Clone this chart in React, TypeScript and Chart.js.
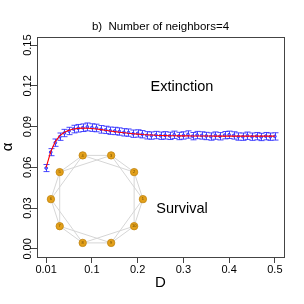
import React, { useEffect, useRef } from "react";
import { Chart, registerables } from "chart.js";
Chart.register(...registerables);

// ---- data ----
const D = [
  0, 0.01, 0.02, 0.03, 0.04, 0.05, 0.06, 0.07, 0.08, 0.09,
  0.1, 0.11, 0.12, 0.13, 0.14, 0.15, 0.16, 0.17, 0.18, 0.19,
  0.2, 0.21, 0.22, 0.23, 0.24, 0.25, 0.26, 0.27, 0.28, 0.29,
  0.3, 0.31, 0.32, 0.33, 0.34, 0.35, 0.36, 0.37, 0.38, 0.39,
  0.4, 0.41, 0.42, 0.43, 0.44, 0.45, 0.46, 0.47, 0.48, 0.49, 0.5,
];
const alphaMean = [
  0.0595, 0.0712, 0.0782, 0.0826, 0.0853, 0.0868, 0.0882, 0.0888, 0.0892, 0.0898,
  0.0893, 0.0890, 0.0880, 0.0876, 0.0870, 0.0868, 0.0864, 0.0858, 0.0856, 0.0848,
  0.0850, 0.0844, 0.0836, 0.0834, 0.0838, 0.0833, 0.0836, 0.0832, 0.0840, 0.0831,
  0.0835, 0.0842, 0.0830, 0.0838, 0.0835, 0.0831, 0.0827, 0.0834, 0.0829, 0.0837,
  0.0840, 0.0835, 0.0827, 0.0826, 0.0833, 0.0826, 0.0830, 0.0824, 0.0830, 0.0826, 0.0828,
];
const alphaErr = [
  0.0026, 0.0026, 0.0027, 0.0027, 0.0027, 0.0027, 0.0028, 0.0028, 0.0028, 0.0029,
  0.0028, 0.0028, 0.0028, 0.0027, 0.0027, 0.0027, 0.0027, 0.0027, 0.0027, 0.0027,
  0.0027, 0.0027, 0.0027, 0.0027, 0.0027, 0.0027, 0.0027, 0.0027, 0.0027, 0.0027,
  0.0027, 0.0027, 0.0027, 0.0027, 0.0027, 0.0027, 0.0027, 0.0027, 0.0027, 0.0027,
  0.0027, 0.0027, 0.0027, 0.0027, 0.0027, 0.0027, 0.0027, 0.0027, 0.0027, 0.0027, 0.0027,
];
const alphaFit = [
  0.0600, 0.0715, 0.0790, 0.0834, 0.0858, 0.0873, 0.0882, 0.0887, 0.0889, 0.0888,
  0.0886, 0.0882, 0.0878, 0.0873, 0.0868, 0.0863, 0.0859, 0.0855, 0.0851, 0.0848,
  0.0845, 0.0842, 0.0840, 0.0838, 0.0836, 0.0835, 0.0834, 0.0833, 0.0833, 0.0832,
  0.0832, 0.0832, 0.0831, 0.0831, 0.0831, 0.0831, 0.0831, 0.0830, 0.0830, 0.0830,
  0.0830, 0.0830, 0.0830, 0.0830, 0.0830, 0.0830, 0.0830, 0.0830, 0.0830, 0.0830, 0.0830,
];
const xTickValues = [0, 0.1, 0.2, 0.3, 0.4, 0.5];
const xTickLabels = ["0.01", "0.1", "0.2", "0.3", "0.4", "0.5"];
const yTickValues = [0, 0.03, 0.06, 0.09, 0.12, 0.15];
const yTickLabels = ["0.00", "0.03", "0.06", "0.09", "0.12", "0.15"];
const titleText = "b)  Number of neighbors=4";
const xTitle = "D";
const yTitle = "\u03b1";
const regionTexts = ["Extinction", "Survival"];
const regionD = [0.297, 0.297];
const regionAlpha = [0.119, 0.0297];
const nodeCount = 10;
const neighborCount = 4;

const FONT = "'Liberation Sans', Arial, sans-serif";
const AXIS_COLOR = "#444";

const annotationsPlugin = {
  id: "annotations",
  beforeDatasetsDraw(chart: any) {
    const { ctx, scales } = chart;
    const xs = scales.x;
    const ys = scales.y;
    // network inset (ring lattice)
    const cx = xs.getPixelForValue(0.111);
    const cy = ys.getPixelForValue(0.0366);
    const R = 46;
    const pos: [number, number][] = [];
    for (let i = 0; i < nodeCount; i++) {
      const a = (i * 2 * Math.PI) / nodeCount;
      pos.push([cx + R * Math.cos(a), cy - R * Math.sin(a)]);
    }
    ctx.save();
    ctx.strokeStyle = "#d6d6d6";
    ctx.lineWidth = 1;
    for (let i = 0; i < nodeCount; i++) {
      for (let k = 1; k <= neighborCount / 2; k++) {
        const j = (i + k) % nodeCount;
        ctx.beginPath();
        ctx.moveTo(pos[i][0], pos[i][1]);
        ctx.lineTo(pos[j][0], pos[j][1]);
        ctx.stroke();
      }
    }
    for (let i = 0; i < nodeCount; i++) {
      ctx.beginPath();
      ctx.arc(pos[i][0], pos[i][1], 3.7, 0, Math.PI * 2);
      ctx.fillStyle = "#E3A01A";
      ctx.fill();
      ctx.strokeStyle = "#C08410";
      ctx.lineWidth = 0.8;
      ctx.stroke();
      ctx.fillStyle = "#6b4a05";
      ctx.font = "4px " + FONT;
      ctx.textAlign = "center";
      ctx.textBaseline = "middle";
      ctx.fillText(String(i + 1), pos[i][0], pos[i][1]);
    }
    // region labels
    ctx.fillStyle = "#000";
    ctx.font = "14.5px " + FONT;
    ctx.textAlign = "center";
    ctx.textBaseline = "middle";
    for (let i = 0; i < regionTexts.length; i++) {
      ctx.fillText(regionTexts[i], xs.getPixelForValue(regionD[i]), ys.getPixelForValue(regionAlpha[i]));
    }
    // error bars
    ctx.strokeStyle = "rgba(40,40,255,0.85)";
    ctx.lineWidth = 1;
    for (let i = 0; i < D.length; i++) {
      const x = Math.round(xs.getPixelForValue(D[i])) + 0.5;
      const y1 = ys.getPixelForValue(alphaMean[i] + alphaErr[i]);
      const y2 = ys.getPixelForValue(alphaMean[i] - alphaErr[i]);
      ctx.beginPath();
      ctx.moveTo(x, y1);
      ctx.lineTo(x, y2);
      ctx.moveTo(x - 3, y1);
      ctx.lineTo(x + 3, y1);
      ctx.moveTo(x - 3, y2);
      ctx.lineTo(x + 3, y2);
      ctx.stroke();
    }
    ctx.restore();
  },
  afterDraw(chart: any) {
    const { ctx, chartArea } = chart;
    ctx.save();
    ctx.strokeStyle = AXIS_COLOR;
    ctx.lineWidth = 1;
    ctx.strokeRect(
      Math.round(chartArea.left) + 0.5,
      Math.round(chartArea.top) + 0.5,
      Math.round(chartArea.right - chartArea.left),
      Math.round(chartArea.bottom - chartArea.top)
    );
    // title, centred over the plot region
    ctx.fillStyle = "#000";
    ctx.font = "11.5px " + FONT;
    ctx.textAlign = "center";
    ctx.textBaseline = "middle";
    ctx.fillText(titleText, (chartArea.left + chartArea.right) / 2, chartArea.top - 10);
    ctx.restore();
  },
};

export default function App() {
  const ref = useRef<HTMLCanvasElement | null>(null);
  useEffect(() => {
    if (!ref.current) return;
    const chart = new Chart(ref.current, {
      type: "line",
      data: {
        datasets: [
          {
            label: "fit",
            data: D.map((d, i) => ({ x: d, y: alphaFit[i] })),
            borderColor: "#ff0000",
            borderWidth: 1.1,
            pointRadius: 0,
            tension: 0,
            order: 0,
          },
          {
            label: "mean",
            data: D.map((d, i) => ({ x: d, y: alphaMean[i] })),
            showLine: false,
            pointRadius: 1.4,
            pointBorderWidth: 0.8,
            pointBorderColor: "#2020ff",
            pointBackgroundColor: "#8080ff",
            order: 1,
          },
        ],
      },
      plugins: [annotationsPlugin],
      options: {
        animation: false,
        responsive: false,
        devicePixelRatio: 1,
        layout: { padding: { left: 0, right: 20, top: 37, bottom: 0 } },
        plugins: {
          legend: { display: false },
          tooltip: { enabled: false },
          title: { display: false },
        },
        scales: {
          x: {
            type: "linear",
            min: -0.02,
            max: 0.52,
            afterBuildTicks: (s: any) => {
              s.ticks = xTickValues.map((v) => ({ value: v }));
            },
            afterFit: (s: any) => {
              s.height = 47;
            },
            ticks: {
              callback: (_v: any, i: number) => xTickLabels[i],
              color: "#000",
              font: { family: FONT, size: 11 },
              padding: 0,
              maxRotation: 0,
              autoSkip: false,
            },
            grid: { display: true, drawOnChartArea: false, drawTicks: true, tickLength: 6, color: AXIS_COLOR },
            border: { display: true, color: AXIS_COLOR },
            title: {
              display: true,
              text: xTitle,
              color: "#000",
              font: { family: FONT, size: 15 },
              padding: { top: 0, bottom: 12 },
            },
          },
          y: {
            type: "linear",
            min: -0.006,
            max: 0.156,
            afterBuildTicks: (s: any) => {
              s.ticks = yTickValues.map((v) => ({ value: v }));
            },
            afterFit: (s: any) => {
              s.width = 37;
            },
            ticks: {
              callback: (_v: any, i: number) => yTickLabels[i],
              color: "#000",
              font: { family: FONT, size: 11 },
              padding: -9,
              minRotation: 90,
              maxRotation: 90,
              crossAlign: "center",
              autoSkip: false,
            },
            grid: { display: true, drawOnChartArea: false, drawTicks: true, tickLength: 7, color: AXIS_COLOR },
            border: { display: true, color: AXIS_COLOR },
            title: {
              display: true,
              text: yTitle,
              color: "#000",
              font: { family: FONT, size: 15 },
              padding: { top: -1, bottom: 0 },
            },
          },
        },
      } as any,
    });
    return () => chart.destroy();
  }, []);
  return (
    <div style={{ position: "absolute", left: 0, top: 0, width: 304, height: 304, background: "#fff" }}>
      <canvas ref={ref} width={304} height={304} />
    </div>
  );
}
